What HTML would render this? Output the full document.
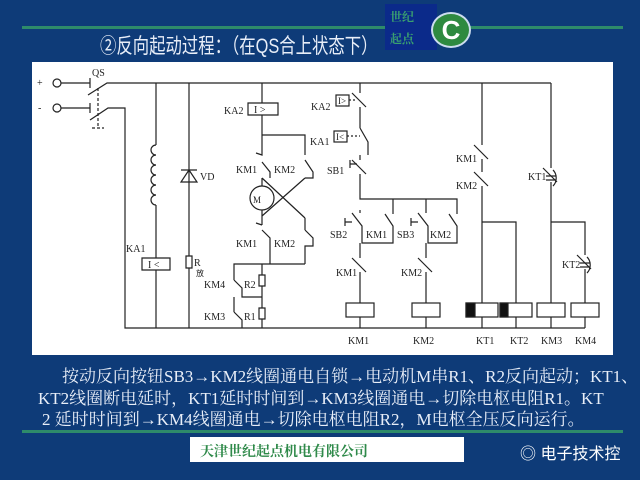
<!DOCTYPE html>
<html><head><meta charset="utf-8"><style>
html,body{margin:0;padding:0;width:640px;height:480px;overflow:hidden;background:#0e3b78;}
.t{position:absolute;font-family:"Liberation Serif","Noto Serif CJK SC",serif;color:#e8eef8;white-space:nowrap}
</style></head><body>
<div style="position:absolute;left:22px;top:26px;width:601px;height:3px;background:#2e8b6a"></div>
<div class="t" style="left:100px;top:34px;font-size:21px;line-height:26px;font-family:'Liberation Sans','Noto Sans CJK SC',sans-serif;transform:scaleX(0.78);transform-origin:0 0">②反向起动过程：（在QS合上状态下）</div>
<div style="position:absolute;left:385px;top:4px;width:52px;height:46px;background:#0b2a8a"></div>
<div class="t" style="left:390px;top:8px;font-size:12px;color:#3aa070;font-weight:bold">世纪</div>
<div class="t" style="left:390px;top:30px;font-size:12px;color:#3aa070;font-weight:bold">起点</div>
<div style="position:absolute;left:431px;top:12px;width:36px;height:32px;border-radius:50%;background:#2e8a40;border:2px solid #cde;color:#fff;font:bold 26px 'Liberation Sans',sans-serif;text-align:center;line-height:32px">C</div>
<div style="position:absolute;left:32px;top:62px;width:581px;height:293px;background:#fff"></div>
<svg style="position:absolute;left:0;top:0" width="640" height="480" viewBox="0 0 640 480" fill="none" stroke="#222" stroke-width="1.2" font-family="Liberation Serif,serif" font-size="10">
<g fill="#222" stroke="none">
<text x="37" y="86">+</text><text x="38" y="111">-</text><text x="92" y="76">QS</text>
<text x="200" y="180">VD</text><text x="126" y="252">KA1</text><text x="194" y="266">R</text><text x="196" y="276" font-size="8">放</text>
<text x="224" y="114">KA2</text><text x="236" y="173">KM1</text><text x="274" y="173">KM2</text>
<text x="236" y="247">KM1</text><text x="274" y="247">KM2</text>
<text x="204" y="288">KM4</text><text x="244" y="288">R2</text><text x="204" y="320">KM3</text><text x="244" y="320">R1</text>
<text x="311" y="110">KA2</text><text x="310" y="145">KA1</text><text x="327" y="174">SB1</text>
<text x="330" y="238">SB2</text><text x="366" y="238">KM1</text><text x="397" y="238">SB3</text><text x="430" y="238">KM2</text>
<text x="336" y="276">KM1</text><text x="401" y="276">KM2</text>
<text x="456" y="162">KM1</text><text x="456" y="189">KM2</text><text x="528" y="180">KT1</text><text x="562" y="268">KT2</text>
<text x="348" y="344">KM1</text><text x="413" y="344">KM2</text><text x="476" y="344">KT1</text><text x="510" y="344">KT2</text><text x="541" y="344">KM3</text><text x="575" y="344">KM4</text>
<text x="253" y="203" font-size="9">M</text>
</g>
<circle cx="57" cy="83" r="4"/><circle cx="57" cy="108" r="4"/>
<path d="M61 83H90M90 78V88M61 108H90M90 103V113M88 95L107 83H551M90 120L108 108H125V328H585"/>
<path d="M98 88V128M92 128H104" stroke-dasharray="3,2"/>
<path d="M156 83V145M156 205V258M142 258h28v12h-28zM156 270V328"/>
<path d="M156 145a5 5 0 0 0 0 10a5 5 0 0 0 0 10a5 5 0 0 0 0 10a5 5 0 0 0 0 10a5 5 0 0 0 0 10a5 5 0 0 0 0 10"/>
<text x="148" y="268" fill="#222" stroke="none">I &lt;</text>
<path d="M189 83V256M181 170h16M181 182h16L189 170z M186 256h6v12h-6zM189 268V328"/>
<path d="M248 103h30v12h-30zM262 83V103M262 115V135H305V150M262 135V150"/>
<text x="254" y="113" fill="#222" stroke="none">I &gt;</text>
<path d="M262 150v5l-6-2M262 162l8 10V178M305 150v5M305 160l8 12V178H305"/>
<circle cx="262" cy="198" r="12"/>
<path d="M262 178v8M262 210v6L305 178M262 178L305 218M305 218v7M262 216v9M262 225l-6 -2M262 230l8 8v8V264M305 225v5M305 230l8 8v8H305V264M262 264H305M262 264h-28V280M262 264V275M259 275h6v11h-6zM262 286V297M234 280l8 8V297H262M234 297V312M262 297V308M259 308h6v11h-6zM262 319V328M234 312l8 8V328"/>
<path d="M360 83V93M352 93l14 14M360 107V128M360 128l8 14V155M360 155v5M352 160l14 14M360 174V199H457V210M393 199V210M426 199V210"/>
<rect x="336" y="95" width="13" height="11"/><text x="338" y="104" fill="#222" stroke="none" font-size="9">I&gt;</text>
<path d="M349 100H357" stroke-dasharray="2,2"/>
<rect x="334" y="131" width="13" height="11"/><text x="336" y="140" fill="#222" stroke="none" font-size="9">I&lt;</text>
<path d="M347 136H360" stroke-dasharray="2,2"/>
<path d="M350 160v8M350 164H357" />
<path d="M360 210v3M352 213l10 13V243H393V226l-8-12M426 210v3M418 213l10 13V243H457V226l-8-12M393 210v4M457 210v4"/>
<path d="M345 218v8M345 222H352M411 218v8M411 222H418" />
<path d="M360 243V258M352 258l14 14M360 272V303M426 243V258M418 258l14 14M426 272V303"/>
<rect x="346" y="303" width="28" height="14"/><rect x="412" y="303" width="28" height="14"/>
<path d="M360 317V328M426 317V328"/>
<path d="M482 83V145M474 145l14 14M482 159V172M474 172l14 14M482 186V303M482 222H516V303M482 317V328M516 317V328"/>
<path d="M551 83V168M543 168l14 14M551 182V303M551 222H585V255M577 255l14 14M585 269V303M551 317V328M585 317V328"/>
<path d="M553 170a8 10 0 0 1 0 16M546 176h10M546 180h10M587 257a8 10 0 0 1 0 16M580 263h10M580 267h10"/>
<rect x="466" y="303" width="32" height="14"/><rect x="466" y="303" width="9" height="14" fill="#111"/>
<rect x="500" y="303" width="32" height="14"/><rect x="500" y="303" width="8" height="14" fill="#111"/>
<rect x="537" y="303" width="28" height="14"/><rect x="571" y="303" width="28" height="14"/>
</svg>
<div class="t" style="left:62px;top:362px;font-size:17px">按动反向按钮SB3→KM2线圈通电自锁→电动机M串R1、R2反向起动；KT1、</div>
<div class="t" style="left:38px;top:384px;font-size:17px">KT2线圈断电延时，KT1延时时间到→KM3线圈通电→切除电枢电阻R1。KT</div>
<div class="t" style="left:42px;top:405px;font-size:17px">2 延时时间到→KM4线圈通电→切除电枢电阻R2，M电枢全压反向运行。</div>
<div style="position:absolute;left:22px;top:430px;width:601px;height:3px;background:#2e8b6a"></div>
<div style="position:absolute;left:190px;top:437px;width:274px;height:25px;background:#fff"></div>
<div class="t" style="left:200px;top:441px;font-size:14px;color:#2f8a4a;font-weight:bold">天津世纪起点机电有限公司</div>
<div class="t" style="left:520px;top:440px;font-size:16px;color:#fff;font-family:'Liberation Sans','Noto Sans CJK SC',sans-serif">◎ 电子技术控</div>
</body></html>
